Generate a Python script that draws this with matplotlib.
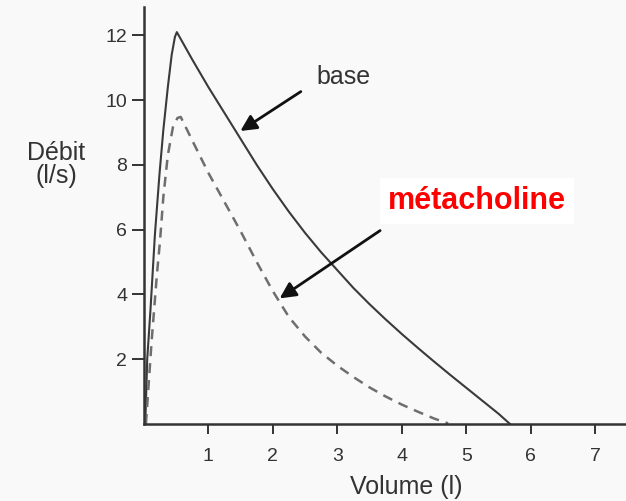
import matplotlib
matplotlib.use('Agg')
import matplotlib.pyplot as plt

plt.rcParams['font.family'] = ['Liberation Sans', 'DejaVu Sans']

# courbe debit-volume
base_vol = [0.02, 0.05, 0.10, 0.17, 0.24, 0.30, 0.37, 0.43, 0.48, 0.51,
            0.75, 1.00, 1.25, 1.50, 1.75, 2.00, 2.25, 2.50, 2.75, 3.00,
            3.25, 3.50, 3.75, 4.00, 4.25, 4.50, 4.75, 5.00, 5.25, 5.50, 5.68]
base_deb = [0.0, 2.0, 3.5, 5.86, 7.7, 9.07, 10.4, 11.4, 11.95, 12.1,
            11.25, 10.4, 9.6, 8.8, 8.0, 7.25, 6.55, 5.9, 5.3, 4.75,
            4.2, 3.7, 3.23, 2.78, 2.35, 1.93, 1.52, 1.12, 0.72, 0.32, 0.0]

meta_vol = [0.03, 0.12, 0.20, 0.25, 0.30, 0.37, 0.45, 0.52, 0.57,
            0.80, 1.00, 1.25, 1.50, 1.75, 2.00, 2.25, 2.50, 2.75, 3.00,
            3.25, 3.50, 3.75, 4.00, 4.25, 4.50, 4.72]
meta_deb = [0.0, 2.6, 4.6, 5.68, 7.0, 8.3, 9.17, 9.45, 9.48,
            8.55, 7.75, 6.85, 5.95, 5.0, 4.1, 3.3, 2.7, 2.2, 1.8,
            1.45, 1.13, 0.85, 0.6, 0.38, 0.17, 0.02]

xticks = [1, 2, 3, 4, 5, 6, 7]
yticks = [2, 4, 6, 8, 10, 12]

fig = plt.figure(figsize=(6.26, 5.01), dpi=100, facecolor='#f9f9f9')
ax = fig.add_axes([0.230, 0.1537, 0.770, 0.832])
ax.set_facecolor('#f9f9f9')

ax.plot(base_vol, base_deb, color='#3a3a3a', lw=1.5)
ax.plot(meta_vol, meta_deb, color='#6e6e6e', lw=1.8, dashes=(4, 2.8))

ax.set_xlim(0, 7.48)
ax.set_ylim(0, 12.87)
ax.set_xticks(xticks)
ax.set_yticks(yticks)

for s in ['top', 'right']:
    ax.spines[s].set_visible(False)
for s in ['left', 'bottom']:
    ax.spines[s].set_color('#333333')
    ax.spines[s].set_linewidth(1.8)

ax.tick_params(axis='y', direction='out', length=8.6, width=1.4, pad=3.6,
               labelsize=14, colors='#333333')
ax.tick_params(axis='x', direction='out', length=7, width=1.4, pad=10,
               labelsize=14, colors='#333333')

ax.set_xlabel('Volume (l)', fontsize=18, color='#333333', va='center')
ax.xaxis.set_label_coords(0.5436, -0.151)
ax.set_ylabel('Débit\n(l/s)', fontsize=18, color='#333333', rotation=0,
              ha='center', va='center', linespacing=0.95)
ax.yaxis.set_label_coords(-0.1826, 0.6235)

# fleches et legendes
ax.annotate('', xy=(1.46, 9.0), xytext=(2.47, 10.31),
            arrowprops=dict(arrowstyle='-|>', color='#111111', lw=2, mutation_scale=24))
ax.annotate('', xy=(2.07, 3.83), xytext=(3.70, 6.02),
            arrowprops=dict(arrowstyle='-|>', color='#111111', lw=2, mutation_scale=24))

ax.text(3.09, 10.71, 'base', fontsize=18, color='#333333', ha='center', va='center')
ax.text(5.17, 6.88, 'métacholine', fontsize=22, color='red', fontweight='bold',
        ha='center', va='center',
        bbox=dict(facecolor='white', edgecolor='none', pad=6))

plt.savefig('out.png', dpi=100, facecolor=fig.get_facecolor())
